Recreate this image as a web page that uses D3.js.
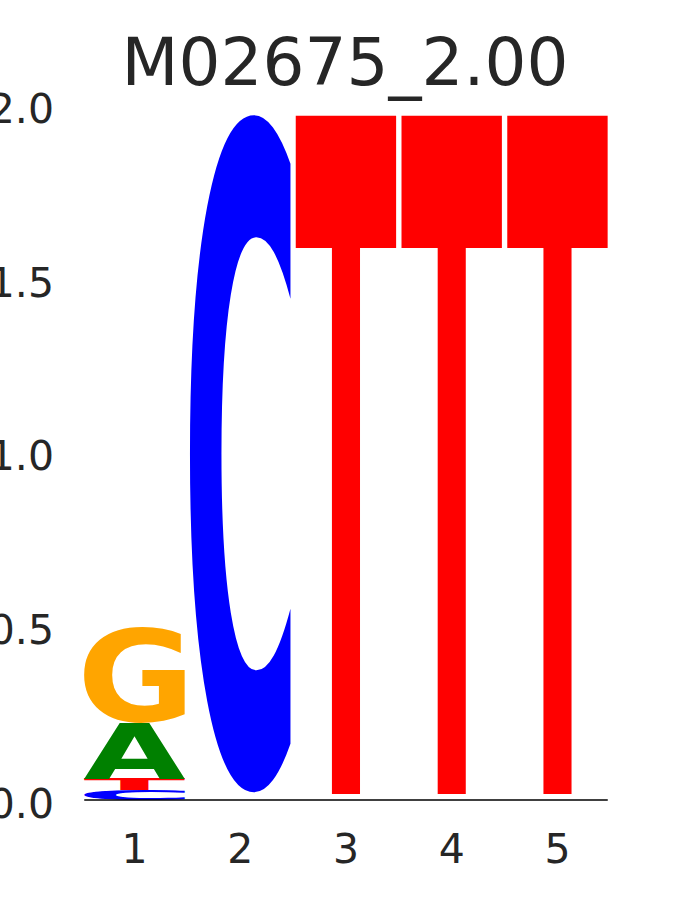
<!DOCTYPE html>
<html>
  <head>
    <title>M02675_2.00</title>
    <style type="text/css">
        body{
            margin: 0;
            background: #ffffff;
        }
        .tick-label{
            font-family: "DejaVu Sans";
            font-size: 41px;
            fill: #262626;
        }
        .title{
            font-family: "DejaVu Sans";
            font-size: 66px;
            fill: #262626;
        }
    </style>
  </head>
  <body>
    <div id="logo"></div>

    <script src="https://cdn.jsdelivr.net/npm/d3@7"></script>
    <script>
        var title = "M02675_2.00";
        var positions = [1, 2, 3, 4, 5];
        var yTicks = [0.0, 0.5, 1.0, 1.5, 2.0];

        //  letter heights per position, stacked bottom to top
        var pos1 = [["C", 0.029], ["T", 0.032], ["A", 0.161], ["G", 0.276]];
        var pos2 = [["A", 0.007], ["G", 0.007], ["T", 0.006], ["C", 1.953]];
        var pos3 = [["A", 0.006], ["C", 0.006], ["G", 0.005], ["T", 1.956]];
        var pos4 = [["A", 0.006], ["C", 0.006], ["G", 0.005], ["T", 1.956]];
        var pos5 = [["A", 0.006], ["C", 0.006], ["G", 0.005], ["T", 1.956]];
        var columns = [pos1, pos2, pos3, pos4, pos5];

        var letterColors = {A: "#008000", C: "#0000ff", G: "#ffa500", T: "#ff0000"};

        var width = 675, height = 900;
        var svg = d3.select("#logo").append("svg")
            .attr("width", width)
            .attr("height", height);

        var x = d3.scaleLinear().domain([0.5, 5.5]).range([81.6, 610.4]);
        var y = d3.scaleLinear().domain([0, 2]).range([800, 105.5]);
        var step = x(2) - x(1);
        var glyphWidth = step * 0.95;

        //  find the ink bounds of each glyph by drawing it on a canvas and scanning pixels
        var fontSize = 400;
        var cw = 800, ch = 800, ox = 200, oy = 600;
        var canvas = document.createElement("canvas");
        canvas.width = cw; canvas.height = ch;
        var ctx = canvas.getContext("2d");
        var inkBox = {};
        ["A", "C", "G", "T"].forEach(function (l) {
            ctx.clearRect(0, 0, cw, ch);
            ctx.font = "bold " + fontSize + "px 'DejaVu Sans'";
            ctx.fillStyle = "#000";
            ctx.fillText(l, ox, oy);
            var px = ctx.getImageData(0, 0, cw, ch).data;
            var x0 = cw, x1 = 0, y0 = ch, y1 = 0;
            for (var j = 0; j < ch; j++) {
                for (var k = 0; k < cw; k++) {
                    if (px[(j * cw + k) * 4 + 3] > 127) {
                        if (k < x0) x0 = k;
                        if (k > x1) x1 = k;
                        if (j < y0) y0 = j;
                        if (j > y1) y1 = j;
                    }
                }
            }
            inkBox[l] = {left: ox - x0, right: x1 + 1 - ox, ascent: oy - y0, descent: y1 + 1 - oy};
        });

        var glyphs = svg.append("g").attr("class", "glyphs");

        columns.forEach(function (col, i) {
            var base = 0;
            col.forEach(function (d) {
                var letter = d[0], h = d[1];
                var bottom = base, top = base + h;
                base = top;
                //  skip slivers too thin to draw
                if (h < 0.01) return;
                var b = inkBox[letter];
                var bx = x(positions[i]) - glyphWidth / 2;
                var by = y(top);
                var bh = y(bottom) - y(top);
                var sx = glyphWidth / (b.left + b.right);
                var sy = bh / (b.ascent + b.descent);
                glyphs.append("text")
                    .attr("font-family", "DejaVu Sans")
                    .attr("font-weight", "bold")
                    .attr("font-size", fontSize)
                    .attr("fill", letterColors[letter])
                    .attr("transform", "translate(" + bx + "," + by + ") scale(" + sx + "," + sy +
                          ") translate(" + b.left + "," + b.ascent + ")")
                    .text(letter);
            });
        });

        //  baseline
        svg.append("line")
            .attr("x1", x(1) - glyphWidth / 2)
            .attr("x2", x(5) + glyphWidth / 2)
            .attr("y1", y(0))
            .attr("y2", y(0))
            .attr("stroke", "#000000")
            .attr("stroke-width", 1.5);

        //  y tick labels
        svg.append("g").selectAll("text")
            .data(yTicks)
            .enter().append("text")
                .attr("class", "tick-label")
                .attr("x", 54)
                .attr("y", (d) => y(d) + 17.5)
                .attr("text-anchor", "end")
                .text((d) => d.toFixed(1));

        //  x tick labels
        svg.append("g").selectAll("text")
            .data(positions)
            .enter().append("text")
                .attr("class", "tick-label")
                .attr("x", (d) => x(d))
                .attr("y", 863)
                .attr("text-anchor", "middle")
                .text((d) => d);

        svg.append("text")
            .attr("class", "title")
            .attr("x", 345)
            .attr("y", 85)
            .attr("text-anchor", "middle")
            .text(title);
    </script>
  </body>
</html>
